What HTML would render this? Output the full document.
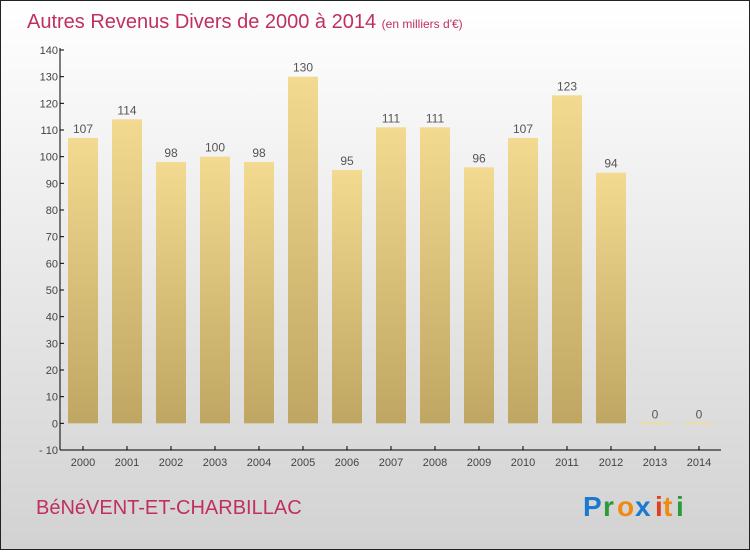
<!DOCTYPE html>
<html><head><meta charset="utf-8"><style>
body{margin:0;width:750px;height:550px;overflow:hidden;font-family:"Liberation Sans",sans-serif}
</style></head><body>
<svg id="chart" width="750" height="550" xmlns="http://www.w3.org/2000/svg">
<defs>
<linearGradient id="bg" x1="0" y1="0" x2="0" y2="1"><stop offset="0" stop-color="#ffffff"/><stop offset="1" stop-color="#d2d2d2"/></linearGradient>
<linearGradient id="bar" x1="0" y1="0" x2="0" y2="1"><stop offset="0" stop-color="#f2da90"/><stop offset="1" stop-color="#bfa662"/></linearGradient>
</defs>
<rect x="0.5" y="0.5" width="749" height="549" fill="url(#bg)" stroke="#222" stroke-width="1"/>
<text x="27" y="28" font-size="20" fill="#c0305e">Autres Revenus Divers de 2000 à 2014 <tspan font-size="12">(en milliers d'€)</tspan></text>
<text x="36" y="514" font-size="20" fill="#c0305e">BéNéVENT-ET-CHARBILLAC</text>
<g font-size="28" font-weight="bold" font-family="'Liberation Sans',sans-serif">
<text x="583" y="516" fill="#1a7ad0">P</text><text x="603" y="516" fill="#2a9a3a">r</text><text x="617" y="516" fill="#f08a10">o</text><text x="635" y="516" fill="#1a7ad0">x</text><text x="655" y="516" fill="#e04020">i</text><text x="663" y="516" fill="#f08a10">t</text><text x="676" y="516" fill="#2a9a3a">i</text>
</g>
<g id="plot"></g>
</svg>
<script>
const years=["2000","2001","2002","2003","2004","2005","2006","2007","2008","2009","2010","2011","2012","2013","2014"];
const values=[107,114,98,100,98,130,95,111,111,96,107,123,94,0,0];
const yTicks=[-10,0,10,20,30,40,50,60,70,80,90,100,110,120,130,140];
const NS="http://www.w3.org/2000/svg";
const g=document.getElementById('plot');
const y=v=>450-(v+10)*400/150;
const x=i=>83+i*44;
function el(t,a,txt){const e=document.createElementNS(NS,t);for(const k in a)e.setAttribute(k,a[k]);if(txt!==undefined)e.textContent=txt;g.appendChild(e);return e;}
values.forEach((v,i)=>{
  if(v>0){const r=el('rect',{x:x(i)-15,y:y(v),width:30,height:y(0)-y(v),fill:'url(#bar)'});
  
  }
  else{const r=el('rect',{x:x(i)-15,y:y(0)-1,width:30,height:2,fill:'#ecdca8'});
  
  }
  const t=el('text',{x:x(i),y:y(v)-5,'font-size':12,fill:'#555','text-anchor':'middle'},String(v));
  
  
  const tk=el('line',{x1:x(i),x2:x(i),y1:446,y2:450,stroke:'#000'});
  
  
  const xl=el('text',{x:x(i),y:466,'font-size':11,fill:'#444','text-anchor':'middle'},years[i]);
  
  
});
yTicks.forEach(v=>{
  const tk=el('line',{x1:60,x2:64,y1:y(v),y2:y(v),stroke:'#000'});
  
  
  const l=el('text',{x:58,y:y(v)+4,'font-size':11,fill:'#444','text-anchor':'end'},v<0?'- '+Math.abs(v):String(v));
  
  
});
const ya=el('line',{x1:60,x2:60,y1:48,y2:450,stroke:'#000'});


const xa=el('line',{x1:60,x2:721,y1:450,y2:450,stroke:'#000'});


</script>
</body></html>
